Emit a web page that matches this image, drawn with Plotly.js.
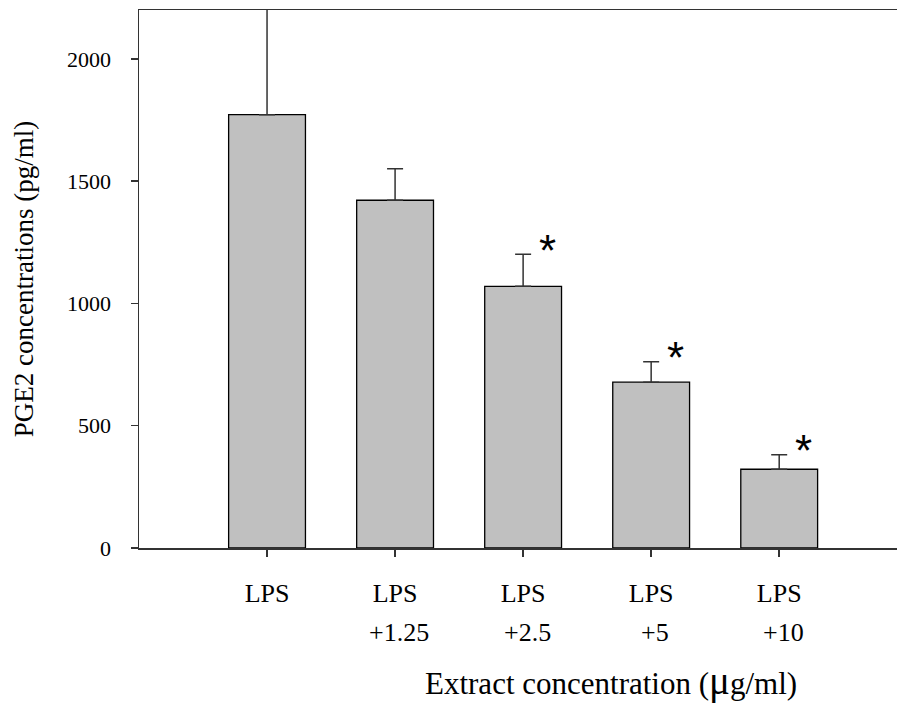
<!DOCTYPE html>
<html><head><meta charset="utf-8">
<script src="https://cdn.plot.ly/plotly-3.0.1.min.js"></script>
<style>html,body{margin:0;padding:0;background:#fff}</style>
</head><body><div id="chart" style="width:897px;height:709px"></div>
<script>
// ---- data ----
const categories = ["LPS", "LPS", "LPS", "LPS", "LPS"];
const doseLabels = ["", "+1.25", "+2.5", "+5", "+10"];
const meanValues = [1772, 1422, 1070, 678, 322];
const semValues = [600, 129, 131, 84, 59];
const significant = [false, false, true, true, true];
const yTickValues = [0, 500, 1000, 1500, 2000];
const yTitle = "PGE2 concentrations (pg/ml)";
const xTitle = "Extract concentration (<span style='font-size:39px'>μ</span>g/ml)";

const positions = categories.map((_, i) => i);
const serif = "Liberation Serif, Times New Roman, serif";
const axisColor = "#333333";

const bars = {
  type: "bar",
  x: positions,
  y: meanValues,
  marker: { color: "#c0c0c0", line: { color: "#000000", width: 1.3 } },
  error_y: {
    type: "data", symmetric: false,
    array: semValues, arrayminus: semValues.map(() => 0),
    color: axisColor, thickness: 1.5, width: 8
  },
  hoverinfo: "skip"
};

const annotations = [];
positions.forEach((p, i) => {
  if (doseLabels[i]) {
    annotations.push({
      xref: "x", yref: "y", x: p, y: 0, text: doseLabels[i], showarrow: false,
      yanchor: "top", yshift: -68, xshift: 4,
      font: { family: serif, size: 26, color: "#000" }
    });
  }
  if (significant[i]) {
    annotations.push({
      xref: "x", yref: "y", x: p, y: meanValues[i] + semValues[i], text: "*", showarrow: false,
      yanchor: "middle", xshift: 24, yshift: 4,
      font: { family: "Liberation Sans, Arial, sans-serif", size: 44, color: "#000" }
    });
  }
});
annotations.push({
  xref: "paper", yref: "y", x: 0.6233, y: 0, text: xTitle, showarrow: false,
  yanchor: "top", yshift: -109,
  font: { family: serif, size: 31, color: "#000" }
});

const layout = {
  width: 897, height: 709,
  margin: { l: 139, r: 0, t: 10, b: 161 },
  paper_bgcolor: "#ffffff", plot_bgcolor: "#ffffff",
  showlegend: false,
  bargap: 0.4,
  xaxis: {
    range: [-1, 4.92], showgrid: false, zeroline: false,
    showline: true, linecolor: axisColor, linewidth: 1.5, mirror: true,
    ticks: "outside", ticklen: 7, tickwidth: 1.5, tickcolor: axisColor,
    tickvals: positions, ticktext: categories, ticklabelstandoff: 14,
    tickfont: { family: serif, size: 26, color: "#000" }
  },
  yaxis: {
    range: [0, 2200], showgrid: false, zeroline: false,
    showline: true, linecolor: axisColor, linewidth: 1.5,
    ticks: "outside", ticklen: 7, tickwidth: 1.5, tickcolor: axisColor,
    tickvals: yTickValues, ticklabelstandoff: 15,
    tickfont: { family: serif, size: 22, color: "#000" },
    title: { text: yTitle, standoff: 25, font: { family: serif, size: 27, color: "#000" } }
  },
  annotations: annotations
};

Plotly.newPlot("chart", [bars], layout, { staticPlot: true, displayModeBar: false });
</script>
</body></html>
